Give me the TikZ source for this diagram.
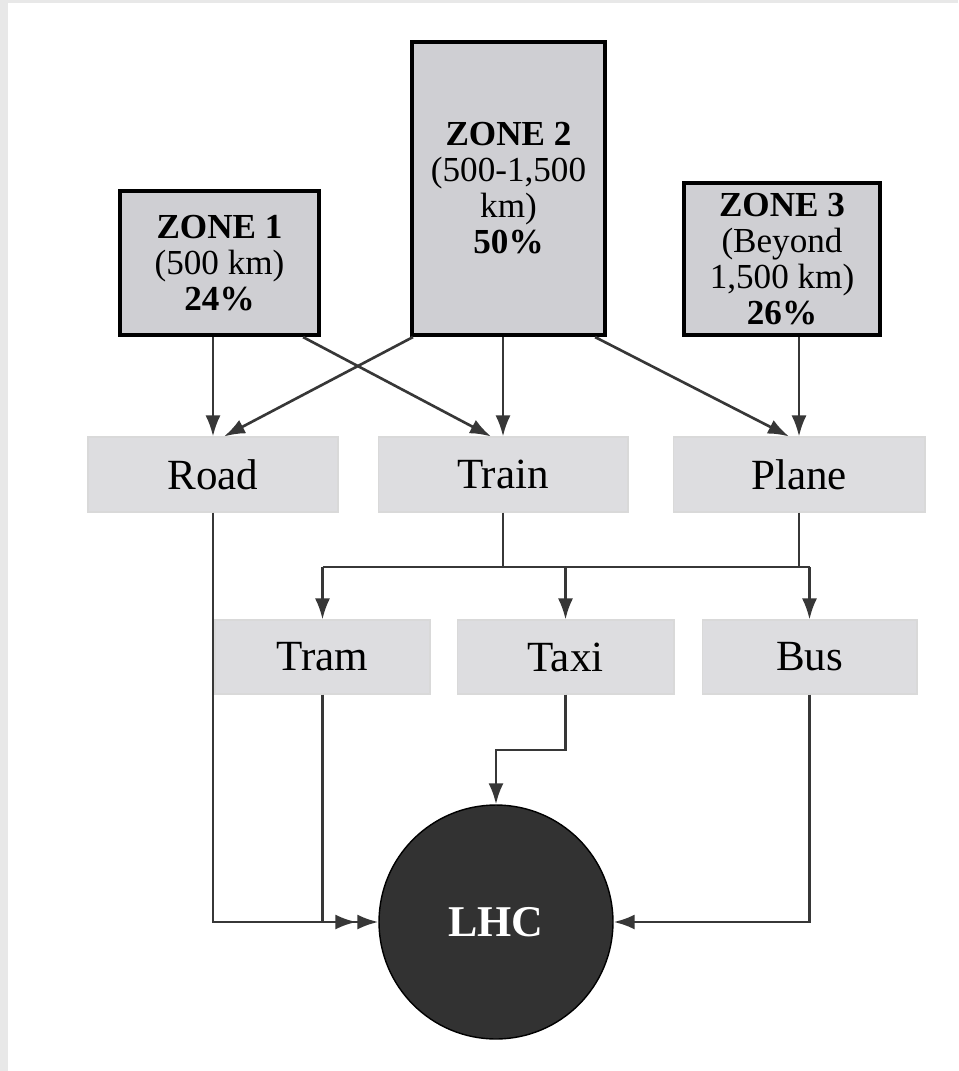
\documentclass[tikz,border=0pt]{standalone}
\usepackage{fontspec}
\setmainfont{Liberation Serif}
\usetikzlibrary{arrows.meta}
\definecolor{zonegray}{RGB}{207,207,211}
\definecolor{modegray}{RGB}{221,221,224}
\definecolor{linkgray}{RGB}{55,55,55}
\definecolor{hubgray}{RGB}{50,50,50}
\begin{document}
\begin{tikzpicture}[x=0.02cm,y=-0.02cm,>={Latex[length=0.42cm,width=0.3cm]},
  zone/.style={draw=black,line width=2.4pt,fill=zonegray,align=center,inner sep=0pt,
    font=\fontsize{20}{20.5}\selectfont},
  mode/.style={fill=modegray,draw=black!15,line width=0.6pt,inner sep=0pt,
    minimum height=1.5cm,font=\fontsize{24.5}{28}\selectfont},
  hub/.style={circle,fill=hubgray,draw=black,line width=0.8pt,minimum size=4.68cm,
    text=white,font=\bfseries\fontsize{25}{28}\selectfont},
  link/.style={draw=linkgray,line width=1.5pt}]
  % page frame
  \fill[black!9] (0,0) rectangle (958,1071);
  \fill[white] (8,3) rectangle (958,1071);
  \useasboundingbox (0,0) rectangle (958,1071);
  % zones
  \node[zone,minimum width=3.98cm,minimum height=2.88cm] (Z1) at (219.5,263)
    {\textbf{ZONE 1}\\(500 km)\\\textbf{24\%}};
  \node[zone,minimum width=3.86cm,minimum height=5.86cm] (Z2) at (508.5,188.5)
    {\textbf{ZONE 2}\\(500-1,500\\km)\\\textbf{50\%}};
  \node[zone,minimum width=3.92cm,minimum height=3.04cm] (Z3) at (782,259)
    {\textbf{ZONE 3}\\(Beyond\\1,500 km)\\\textbf{26\%}};
  % modes of travel
  \foreach \n/\x/\w in {Road/213/5.0,Train/503/5.0,Plane/799/5.04}
    \node[mode,minimum width=\w cm] (\n) at (\x,474.5) {\n};
  \foreach \n/\x/\w in {Tram/322.5/4.3,Taxi/565.5/4.34,Bus/809.5/4.3}
    \node[mode,minimum width=\w cm,minimum height=1.48cm] (\n) at (\x,657) {\n};
  \node[hub] (LHC) at (496,922) {LHC};
  \coordinate (bar) at (0,567);
  \coordinate (kink) at (0,750);
  % zones to modes
  \draw[link,->] (Road.north |- Z1.south) -- (Road.north);
  \draw[link,->] ([xshift=-0.36cm]Z1.south east) -- ([xshift=-0.24cm]Train.north);
  \draw[link,->] ([xshift=0.06cm]Z2.south west) -- ([xshift=0.22cm]Road.north);
  \draw[link,->] (Train.north |- Z2.south) -- (Train.north);
  \draw[link,->] ([xshift=-0.24cm]Z2.south east) -- ([xshift=-0.2cm]Plane.north);
  \draw[link,->] (Plane.north |- Z3.south) -- (Plane.north);
  % onward transfer
  \draw[link] (Train.south) -- (Train.south |- bar);
  \draw[link] (Plane.south) -- (Plane.south |- bar);
  \draw[link] (Tram.north |- bar) -- (Bus.north |- bar);
  \foreach \n in {Tram,Taxi,Bus}
    \draw[link,->] (\n.north |- bar) -- (\n.north);
  % to the LHC
  \draw[link,->] (Road.south) |- (LHC.west);
  \draw[link,->,shorten >=0.44cm] (Tram.south) |- (LHC.west);
  \draw[link,->] (Taxi.south) -- (Taxi.south |- kink) -| (LHC.north);
  \draw[link,->] (Bus.south) |- (LHC.east);
\end{tikzpicture}
\end{document}
